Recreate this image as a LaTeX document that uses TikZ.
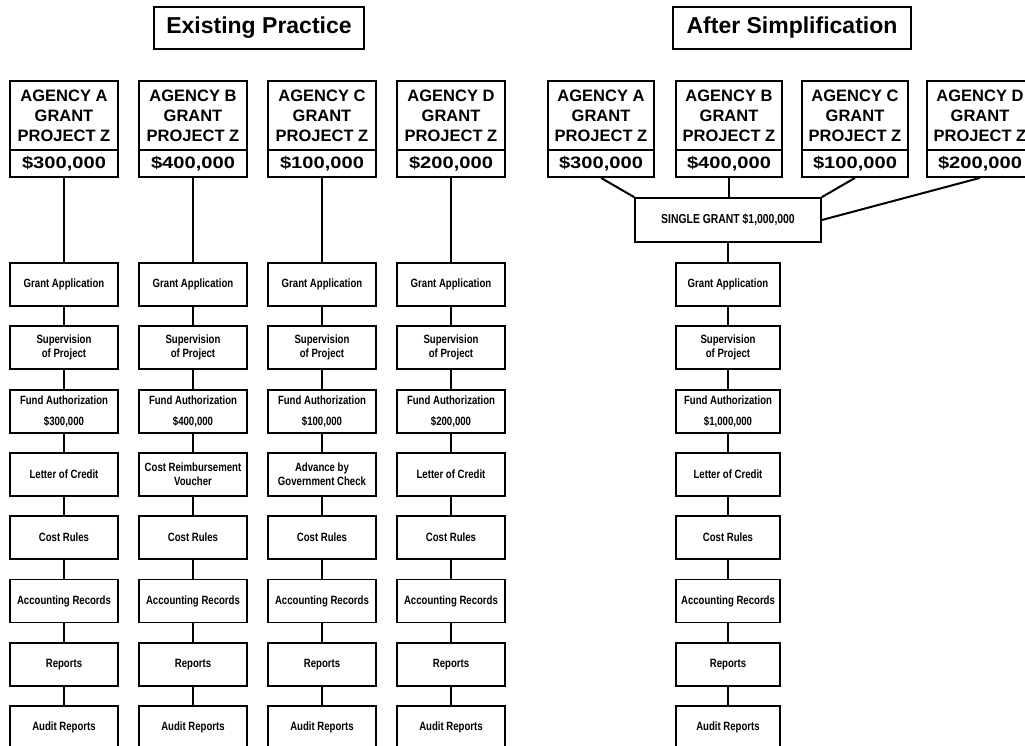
\documentclass[tikz,border=0pt]{standalone}
\usepackage{fontspec}
\setmainfont{Liberation Sans}
\newfontfamily\cndfont{Liberation Sans}[FakeStretch=0.8]
\newfontfamily\amtfont{Liberation Sans}[FakeStretch=1.22]
\begin{document}
\begin{tikzpicture}[x=1pt,y=-1pt, line width=1.8pt,
  box/.style={draw, rectangle, inner sep=0pt, align=center},
  titlebox/.style={box, minimum height=42pt, font=\fontsize{23}{26}\selectfont\bfseries},
  agency/.style={box, minimum width=#1, minimum height=69pt, font=\fontsize{16.5}{20}\selectfont\bfseries},
  amount/.style={box, minimum width=#1, minimum height=27pt, font=\amtfont\fontsize{16.5}{20}\selectfont\bfseries},
  stepbox/.style={box, minimum width=#1, minimum height=43pt, font=\cndfont\fontsize{12}{14}\selectfont\bfseries},
  grantbox/.style={box, minimum width=186pt, minimum height=44pt, font=\cndfont\fontsize{13}{15}\selectfont\bfseries},
  link/.style={draw, line width=2pt}]
\useasboundingbox (0,0) rectangle (1025,746);
\clip (0,0) rectangle (1025,746);
\fill[white] (0,0) rectangle (1025,746);

% titles
\node[titlebox, minimum width=210pt] (t1) at (259,28) {Existing Practice};
\node[titlebox, minimum width=238pt] (t2) at (792,28) {After Simplification};

% existing practice columns
\foreach \c/\L/\x/\amt/\pay in {a/A/64/{300,000}/{Letter of Credit},
  b/B/193/{400,000}/{Cost Reimbursement\\Voucher},
  c/C/322/{100,000}/{Advance by\\Government Check},
  d/D/451/{200,000}/{Letter of Credit}} {
  \node[agency=108pt] (ag\c) at (\x,115.5) {AGENCY \L\\GRANT\\PROJECT Z};
  \node[amount=108pt] (am\c) at (\x,163.5) {\$\amt};
  \node[stepbox=108pt] (s1\c) at (\x,284.5) {Grant Application};
  \node[stepbox=108pt] (s2\c) at (\x,347.8) {Supervision\\of Project};
  \node[stepbox=108pt] (s3\c) at (\x,411.1) {Fund Authorization\\[7pt]\$\amt};
  \node[stepbox=108pt] (s4\c) at (\x,474.4) {\pay};
  \node[stepbox=108pt] (s5\c) at (\x,537.7) {Cost Rules};
  \node[stepbox=108pt] (s6\c) at (\x,601.0) {Accounting Records};
  \node[stepbox=108pt] (s7\c) at (\x,664.3) {Reports};
  \node[stepbox=108pt] (s8\c) at (\x,727.6) {Audit Reports};
  \draw[link] (am\c) -- (s1\c);
  \draw[link] (s1\c) -- (s2\c);
  \draw[link] (s2\c) -- (s3\c);
  \draw[link] (s3\c) -- (s4\c);
  \draw[link] (s4\c) -- (s5\c);
  \draw[link] (s5\c) -- (s6\c);
  \draw[link] (s6\c) -- (s7\c);
  \draw[link] (s7\c) -- (s8\c);
}

% after simplification
\foreach \c/\L/\x/\amt in {a/A/601/{300,000}, b/B/729/{400,000}, c/C/855/{100,000}, d/D/980/{200,000}} {
  \node[agency=106pt] (rag\c) at (\x,115.5) {AGENCY \L\\GRANT\\PROJECT Z};
  \node[amount=106pt] (ram\c) at (\x,163.5) {\$\amt};
}
\node[grantbox] (sg) at (728,220) {SINGLE GRANT \$1,000,000};
\draw[link] (rama.south) -- (sg.north west);
\draw[link] (ramb.south) -- (ramb.south |- sg.north);
\draw[link] (ramc.south) -- (sg.north east);
\draw[link] (ramd.south) -- (sg.east);

\node[stepbox=104pt] (r1) at (728,284.5) {Grant Application};
\node[stepbox=104pt] (r2) at (728,347.8) {Supervision\\of Project};
\node[stepbox=104pt] (r3) at (728,411.1) {Fund Authorization\\[7pt]\$1,000,000};
\node[stepbox=104pt] (r4) at (728,474.4) {Letter of Credit};
\node[stepbox=104pt] (r5) at (728,537.7) {Cost Rules};
\node[stepbox=104pt] (r6) at (728,601.0) {Accounting Records};
\node[stepbox=104pt] (r7) at (728,664.3) {Reports};
\node[stepbox=104pt] (r8) at (728,727.6) {Audit Reports};
\draw[link] (sg) -- (r1);
\draw[link] (r1) -- (r2);
\draw[link] (r2) -- (r3);
\draw[link] (r3) -- (r4);
\draw[link] (r4) -- (r5);
\draw[link] (r5) -- (r6);
\draw[link] (r6) -- (r7);
\draw[link] (r7) -- (r8);
\end{tikzpicture}
\end{document}
